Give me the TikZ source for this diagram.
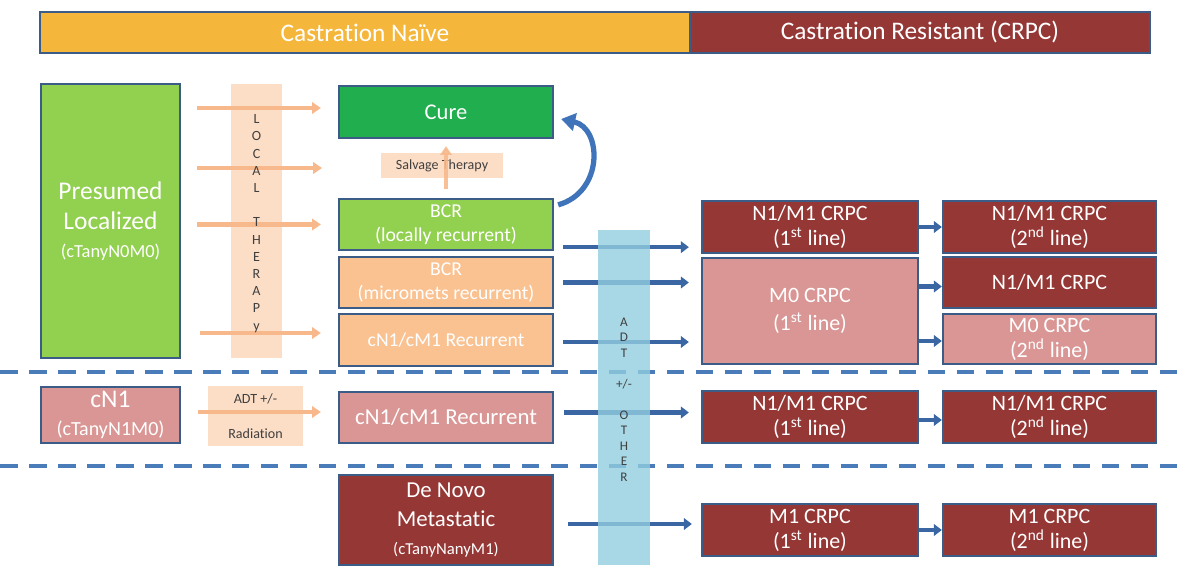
\documentclass[tikz,border=0pt]{standalone}
\usepackage{fontspec}
\setmainfont{Carlito}[Ligatures={NoCommon}]
\usetikzlibrary{arrows.meta,calc}
\definecolor{bord}{HTML}{3B5C86}
\definecolor{orangeT}{HTML}{F5B73B}
\definecolor{darkred}{HTML}{953735}
\definecolor{pinkR}{HTML}{D99694}
\definecolor{greenL}{HTML}{92D050}
\definecolor{greenD}{HTML}{21AE4E}
\definecolor{peach}{HTML}{FAC191}
\definecolor{peachL}{HTML}{FCDDC6}
\definecolor{peachA}{HTML}{F7B98C}
\definecolor{bandB}{HTML}{92CDDF}
\definecolor{arrowB}{HTML}{3A67A3}
\definecolor{dashB}{HTML}{4A7CBA}
\definecolor{curveB}{HTML}{3F74BA}
\definecolor{lettC}{HTML}{404040}
\begin{document}
\begin{tikzpicture}[x=0.02cm,y=-0.02cm,
  box/.style={draw=bord, line width=1.3pt, text=white, align=center, inner sep=0pt},
  sz/.style n args={2}{minimum width=#1*0.02cm, minimum height=#2*0.02cm},
  fT/.style={font=\fontsize{14.4pt}{17pt}\selectfont},
  fB/.style={font=\fontsize{12.5pt}{14.2pt}\selectfont},
  fM/.style={font=\fontsize{11.2pt}{14pt}\selectfont},
  fS/.style={font=\fontsize{8pt}{10pt}\selectfont, text=lettC, align=center},
  peacharrow/.style={draw=peachA, line width=2.3pt, -{Triangle[length=5pt,width=6.5pt]}},
  bluearrow/.style={draw=arrowB, line width=2.4pt, -{Triangle[length=4.5pt,width=6.5pt]}},
  dashline/.style={draw=dashB, line width=2.3pt, dash pattern=on 10pt off 6.5pt},
  letters/.style={font=\fontsize{8pt}{9.8pt}\selectfont, text=lettC, align=center, inner sep=0pt}
]
\useasboundingbox (0,0) rectangle (1200,578);

% top bars
\node[box, fill=orangeT, sz={650}{41}, fT] (naive) at (365,32.5) {Castration Naïve};
\node[box, fill=darkred, sz={460}{41}, fT] (crpc) at (920,32.5) {Castration Resistant (CRPC)};

% separators
\draw[dashline] (0,372) -- (1185,372);
\draw[dashline] (0,466) -- (1185,466);

% left column
\node[box, fill=greenL, sz={139}{274}, font=\fontsize{14.5pt}{17pt}\selectfont] (pres) at (110.5,221)
  {Presumed\\Localized\\[-1pt]{\fontsize{10.5pt}{13pt}\selectfont(cTanyN0M0)}};
\node[box, fill=pinkR, sz={139}{56}, font=\fontsize{14.5pt}{15.5pt}\selectfont] (cn1) at (110.5,415)
  {cN1\\{\fontsize{11.4pt}{13pt}\selectfont(cTanyN1M0)}};

% local therapy band
\node[fill=peachL, sz={51}{274}, inner sep=0pt] (lband) at (256.5,221) {};

% middle column
\node[box, fill=greenD, sz={214}{52}, font=\fontsize{12.8pt}{15pt}\selectfont] (cure) at (446,112) {Cure};
\node[fill=peachL, sz={122}{25}, inner sep=0pt, fS] (salv) at (442,165.5) {Salvage Therapy};
\node[box, fill=greenL, sz={214}{51}, fM] (bcr1) at (446,224.5) {BCR\\(locally recurrent)};
\node[box, fill=peach, sz={214}{51}, fM] (bcr2) at (446,282.5) {BCR\\(micromets recurrent)};
\node[box, fill=peach, sz={214}{52}, fM] (rec1) at (446,340) {cN1/cM1 Recurrent};
\node[fill=peachL, sz={95}{60}, inner sep=0pt, fS, font=\fontsize{8pt}{20pt}\selectfont] (adtrad) at (255.5,416) {ADT +/-\\Radiation};
\node[box, fill=pinkR, sz={214}{51}, font=\fontsize{13pt}{15pt}\selectfont] (rec2) at (446,417.5) {cN1/cM1 Recurrent};
\node[box, fill=darkred, sz={214}{90}, font=\fontsize{13pt}{15.5pt}\selectfont] (denovo) at (446,520)
  {De Novo\\[1pt]Metastatic\\[0pt]{\fontsize{9.5pt}{14pt}\selectfont(cTanyNanyM1)}};

% right columns
\node[box, fill=darkred, sz={216}{52}, fB] (n1a) at (810,227) {N1/M1 CRPC\\(1\textsuperscript{st} line)};
\node[box, fill=pinkR, sz={216}{106}, font=\fontsize{12.5pt}{15.5pt}\selectfont] (m0a) at (810,311) {M0 CRPC\\(1\textsuperscript{st} line)};
\node[box, fill=darkred, sz={213}{52}, fB] (n1b) at (1049.5,227) {N1/M1 CRPC\\(2\textsuperscript{nd} line)};
\node[box, fill=darkred, sz={213}{51}, fB] (n1c) at (1049.5,282.5) {N1/M1 CRPC};
\node[box, fill=pinkR, sz={213}{50}, fB] (m0b) at (1049.5,339) {M0 CRPC\\(2\textsuperscript{nd} line)};
\node[box, fill=darkred, sz={216}{52}, fB] (n1d) at (810,417) {N1/M1 CRPC\\(1\textsuperscript{st} line)};
\node[box, fill=darkred, sz={213}{52}, fB] (n1e) at (1049.5,417) {N1/M1 CRPC\\(2\textsuperscript{nd} line)};
\node[box, fill=darkred, sz={216}{52}, fB] (m1a) at (810,530) {M1 CRPC\\(1\textsuperscript{st} line)};
\node[box, fill=darkred, sz={213}{52}, fB] (m1b) at (1049.5,530) {M1 CRPC\\(2\textsuperscript{nd} line)};

% peach arrows (local therapy)
\coordinate (gap) at (322,168);
\draw[peacharrow, shorten <=16*0.02cm, shorten >=17*0.02cm] ($(pres.east |- cure.west)+(0,-4)$) -- ($(cure.west)+(0,-4)$);
\draw[peacharrow, shorten <=16*0.02cm] (pres.east |- gap) -- (gap);
\draw[peacharrow, shorten <=16*0.02cm, shorten >=17*0.02cm] (pres.east |- bcr1.west) -- (bcr1.west);
\draw[peacharrow, shorten <=19*0.02cm, shorten >=17*0.02cm] ($(pres.east |- rec1.west)+(0,-7)$) -- ($(rec1.west)+(0,-7)$);
\draw[peacharrow, shorten <=17*0.02cm, shorten >=17*0.02cm] ($(cn1.east)+(0,-3)$) -- ($(rec2.west |- cn1.east)+(0,-3)$);
\node[letters] (ltext) at (256.5,223.5) {L\\O\\C\\A\\L\\\mbox{}\\T\\H\\E\\R\\A\\P\\y};

% salvage arrow
\draw[peacharrow, opacity=.9, shorten <=9*0.02cm, shorten >=7*0.02cm] (bcr1.north) -- (cure.south);

% curved arrow
\draw[draw=curveB, line width=3pt, -{Triangle[length=8pt,width=10pt]}]
  ($(bcr1.north east)+(4,7)$) .. controls (604,192) and (602,128) .. ($(cure.east)+(7,7)$);

% blue arrows
\draw[bluearrow, shorten <=9*0.02cm, shorten >=12*0.02cm] ($(bcr1.south east)+(0,-4)$) -- ($(n1a.west |- bcr1.south east)+(0,-4)$);
\draw[bluearrow, shorten <=9*0.02cm, shorten >=12*0.02cm] (bcr2.east) -- (m0a.west |- bcr2.east);
\draw[bluearrow, shorten <=9*0.02cm, shorten >=12*0.02cm] ($(rec1.east)+(0,2)$) -- ($(m0a.west |- rec1.east)+(0,2)$);
\draw[bluearrow, shorten <=10*0.02cm, shorten >=12*0.02cm] ($(rec2.east)+(0,-5)$) -- ($(n1d.west |- rec2.east)+(0,-5)$);
\draw[bluearrow, shorten <=14*0.02cm, shorten >=9*0.02cm] ($(denovo.east)+(0,4)$) -- ($(m1a.west)+(0,-6)$);

\draw[bluearrow] (n1a.east) -- (n1b.west);
\draw[bluearrow] ($(m0a.east |- n1c.west)+(0,4)$) -- ($(n1c.west)+(0,4)$);
\draw[bluearrow] ($(m0a.east |- m0b.west)+(0,2)$) -- ($(m0b.west)+(0,2)$);
\draw[bluearrow] ($(n1d.east)+(0,3)$) -- ($(n1e.west)+(0,3)$);
\draw[bluearrow] (m1a.east) -- (m1b.west);

% ADT band
\node[fill=bandB, fill opacity=.8, sz={52}{335}, inner sep=0pt] (aband) at (624,397.5) {};
\node[letters, font=\fontsize{7.5pt}{8.8pt}\selectfont] (atext) at (624,399.5) {A\\D\\T\\\mbox{}\\+/-\\\mbox{}\\O\\T\\H\\E\\R};
\end{tikzpicture}
\end{document}
